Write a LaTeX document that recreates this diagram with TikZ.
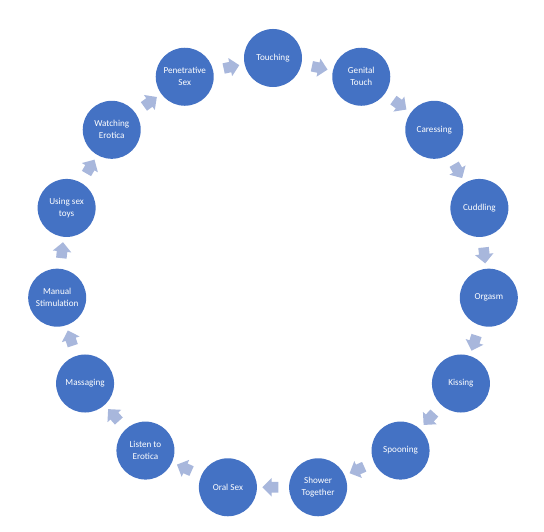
\documentclass[tikz,border=0pt]{standalone}
\usepackage{fontspec}
\setmainfont{Carlito}
\usetikzlibrary{shapes,arrows,positioning,calc}
\definecolor{stageblue}{RGB}{68,114,196}
\definecolor{flowblue}{RGB}{168,183,220}

\begin{document}
\begin{tikzpicture}[x=0.025cm, y=0.025cm,
    stage/.style={circle, fill=stageblue, minimum size=1.45cm, inner sep=0pt,
        text=white, align=center, font=\fontsize{6.5}{8.5}\selectfont},
    flow/.style={single arrow, fill=flowblue, minimum height=0.4cm,
        single arrow head extend=0.1cm, inner xsep=0pt, inner ysep=0.125cm, rotate=#1}]
    \useasboundingbox (-273,275) rectangle (271,-256);

    % Stages round the ring
    \node[stage] (touching) at (90:217) {Touching};
    \node[stage] (genital) at (66:217) {Genital\\Touch};
    \node[stage] (caressing) at (42:217) {Caressing};
    \node[stage] (cuddling) at (18:217) {Cuddling};
    \node[stage] (orgasm) at (-6:217) {Orgasm};
    \node[stage] (kissing) at (-30:217) {Kissing};
    \node[stage] (spooning) at (-54:217) {Spooning};
    \node[stage] (shower) at (-78:217) {Shower\\Together};
    \node[stage] (oral) at (-102:217) {Oral Sex};
    \node[stage] (listen) at (-126:217) {Listen to\\Erotica};
    \node[stage] (massaging) at (-150:217) {Massaging};
    \node[stage] (manual) at (-174:217) {Manual\\Stimulation};
    \node[stage] (toys) at (-198:217) {Using sex\\toys};
    \node[stage] (watching) at (-222:217) {Watching\\Erotica};
    \node[stage] (penetrative) at (-246:217) {Penetrative\\Sex};

    % Arrows between stages
    \node[flow=-12] (f1) at ($(touching)!0.5!(genital)$) {};
    \node[flow=-36] (f2) at ($(genital)!0.5!(caressing)$) {};
    \node[flow=-60] (f3) at ($(caressing)!0.5!(cuddling)$) {};
    \node[flow=-84] (f4) at ($(cuddling)!0.5!(orgasm)$) {};
    \node[flow=-108] (f5) at ($(orgasm)!0.5!(kissing)$) {};
    \node[flow=-132] (f6) at ($(kissing)!0.5!(spooning)$) {};
    \node[flow=-156] (f7) at ($(spooning)!0.5!(shower)$) {};
    \node[flow=-180] (f8) at ($(shower)!0.5!(oral)$) {};
    \node[flow=-204] (f9) at ($(oral)!0.5!(listen)$) {};
    \node[flow=-228] (f10) at ($(listen)!0.5!(massaging)$) {};
    \node[flow=-252] (f11) at ($(massaging)!0.5!(manual)$) {};
    \node[flow=-276] (f12) at ($(manual)!0.5!(toys)$) {};
    \node[flow=-300] (f13) at ($(toys)!0.5!(watching)$) {};
    \node[flow=-324] (f14) at ($(watching)!0.5!(penetrative)$) {};
    \node[flow=12] (f15) at ($(penetrative)!0.5!(touching)$) {};
\end{tikzpicture}
\end{document}
